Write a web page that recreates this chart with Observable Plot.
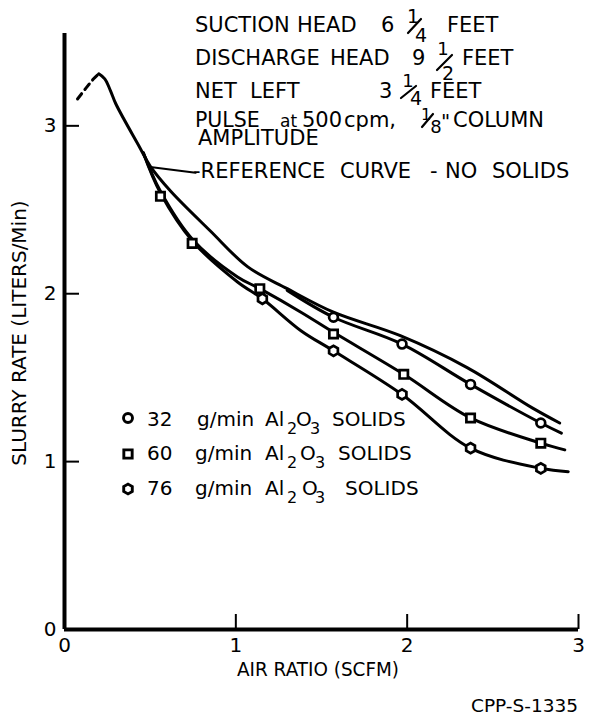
<!DOCTYPE html>
<html><head><meta charset="utf-8">
<script src="https://cdn.jsdelivr.net/npm/d3@7"></script>
<script src="https://cdn.jsdelivr.net/npm/@observablehq/plot@0.6"></script>
<style>body{margin:0;background:#fff} svg{display:block}</style>
</head><body><div id="chart"></div>
<script>
// ---------- DATA ----------
const xTicks = [0, 1, 2, 3];
const yTicks = [0, 1, 2, 3];

// reference curve (no solids): dashed rising part, then solid
const refDashX = [0.076, 0.17, 0.20];
const refDashY = [3.16, 3.28, 3.31];
const refX = [0.20, 0.235, 0.268, 0.30, 0.44, 0.50, 0.62, 0.85, 1.07, 1.30, 1.57, 1.96, 2.35, 2.73, 2.89];
const refY = [3.31, 3.28, 3.21, 3.13, 2.87, 2.76, 2.61, 2.375, 2.16, 2.03, 1.89, 1.75, 1.56, 1.32, 1.23];

// fitted curves
const c32X = [1.30, 1.57, 1.97, 2.37, 2.78, 2.90];
const c32Y = [2.02, 1.86, 1.70, 1.46, 1.23, 1.17];
const c60X = [0.46, 0.56, 0.75, 1.01, 1.14, 1.38, 1.57, 1.98, 2.37, 2.78, 2.92];
const c60Y = [2.84, 2.61, 2.32, 2.10, 2.03, 1.89, 1.77, 1.52, 1.26, 1.11, 1.07];
const c76X = [0.46, 0.56, 0.75, 1.01, 1.155, 1.38, 1.57, 1.97, 2.37, 2.78, 2.94];
const c76Y = [2.84, 2.60, 2.31, 2.07, 1.97, 1.78, 1.66, 1.40, 1.08, 0.96, 0.94];

// measured points
const m32X = [1.57, 1.97, 2.37, 2.78];
const m32Y = [1.86, 1.70, 1.46, 1.23];
const m60X = [0.56, 0.745, 1.14, 1.57, 1.98, 2.37, 2.78];
const m60Y = [2.58, 2.30, 2.03, 1.76, 1.52, 1.26, 1.11];
const m76X = [1.155, 1.57, 1.97, 2.37, 2.78];
const m76Y = [1.97, 1.66, 1.40, 1.08, 0.96];

// pointer from reference curve to its label
const pointerX = [0.50, 0.765];
const pointerY = [2.755, 2.72];

const legendRates = ["32", "60", "76"];
const xTitle = "AIR RATIO (SCFM)";
const yTitle = "SLURRY RATE (LITERS/Min)";
const caption = "CPP-S-1335";

// ---------- CHART ----------
const pts = (xs, ys) => xs.map((x, i) => ({x, y: ys[i]}));
const hexagon = {
  draw(ctx, size) {
    const r = Math.sqrt(2 * size / (3 * Math.sqrt(3)));
    for (let i = 0; i < 6; i++) {
      const a = Math.PI / 3 * i + Math.PI / 6;
      const px = r * Math.cos(a), py = r * Math.sin(a);
      if (i === 0) ctx.moveTo(px, py); else ctx.lineTo(px, py);
    }
    ctx.closePath();
  }
};

const W = 590, H = 723, mL = 64, mR = 12, mT = 33, mB = 94;
const FONT = "DejaVu Sans";
const lineOpts = {x: "x", y: "y", curve: "catmull-rom", stroke: "#000", strokeWidth: 3, strokeLinecap: "round"};
const dotOpts = {x: "x", y: "y", r: 4.4, fill: "#fff", stroke: "#000", strokeWidth: 2.7};

const chart = Plot.plot({
  width: W, height: H,
  marginLeft: mL, marginRight: mR, marginTop: mT, marginBottom: mB,
  style: {fontFamily: FONT, color: "#000", background: "#fff"},
  x: {domain: [0, 3]},
  y: {domain: [0, 3.55]},
  marks: [
    Plot.axisX(xTicks, {tickSize: 0, tickPadding: 8, fontSize: 20, label: null, tickFormat: d => String(d)}),
    Plot.axisY(yTicks, {tickSize: 0, tickPadding: 8, fontSize: 20, label: null, tickFormat: d => String(d)}),
    Plot.ruleX(xTicks.filter(d => d > 0), {insetTop: H - mT - mB - 15, strokeWidth: 2}),
    Plot.ruleY(yTicks.filter(d => d > 0), {insetRight: W - mL - mR - 15, strokeWidth: 2}),
    Plot.ruleX([0], {strokeWidth: 4}),
    Plot.ruleY([0], {strokeWidth: 4}),
    Plot.line(pts(refDashX, refDashY), {...lineOpts, strokeDasharray: "7,5"}),
    Plot.line(pts(refX, refY), lineOpts),
    Plot.line(pts(c32X, c32Y), lineOpts),
    Plot.line(pts(c60X, c60Y), lineOpts),
    Plot.line(pts(c76X, c76Y), lineOpts),
    Plot.line(pts(pointerX, pointerY), {x: "x", y: "y", stroke: "#000", strokeWidth: 2}),
    Plot.dot(pts(m32X, m32Y), {...dotOpts, symbol: "circle"}),
    Plot.dot(pts(m60X, m60Y), {...dotOpts, symbol: "square", r: 4.7}),
    Plot.dot(pts(m76X, m76Y), {...dotOpts, symbol: hexagon, r: 4.6})
  ]
});
document.getElementById("chart").appendChild(chart);

// ---------- ANNOTATIONS ----------
const svg = d3.select(chart);
const g = svg.append("g").attr("font-family", FONT).attr("fill", "#000");
function t(str, x, y, size = 21, anchor = "start") {
  return g.append("text").attr("x", x).attr("y", y).attr("font-size", size)
    .attr("text-anchor", anchor).text(str);
}
function slash(x1, y1, x2, y2) {
  g.append("line").attr("x1", x1).attr("y1", y1).attr("x2", x2).attr("y2", y2)
    .attr("stroke", "#000").attr("stroke-width", 2.2).attr("stroke-linecap", "round");
}
// header block
[["SUCTION",195,32],["HEAD",297,32],["6",381,32],["FEET",447,32],
 ["DISCHARGE",195,65],["HEAD",330,65],["9",412,65],["FEET",462,65],
 ["NET",195,98],["LEFT",250,98],["3",379,98],["FEET",430,98],
 ["500",302,127],["cpm,",344,127],["COLUMN",453,127],
 ["AMPLITUDE",198,145],
 ["-REFERENCE",193,178],["CURVE",340,178],["-",430,178],["NO",445,178],["SOLIDS",492,178]
].forEach(([s,x,y]) => t(s,x,y));
t("PULSE", 195, 127, 20.5);
t("at", 280, 127, 17);
t("\"", 441, 128, 20);
// stacked fractions: numerator, slash, denominator
t("1", 413, 23, 19, "middle"); slash(408, 33, 421, 19); t("4", 421, 42, 19, "middle");
t("1", 443, 55, 18, "middle"); slash(437, 70, 452, 55); t("2", 448, 80, 19, "middle");
t("1", 408, 87, 18, "middle"); slash(401, 98, 416, 86); t("4", 416, 105, 19, "middle");
t("1", 426, 120, 16, "middle"); slash(422, 127, 433, 114); t("8", 436, 133, 18, "middle");

// legend
const legendSymbols = [d3.symbolCircle, d3.symbolSquare, hexagon];
const legRowY = [426, 460, 495];
const legMarkY = [418, 454, 489];
const legX = [[147,197,265,287,296,310,332],[147,195,265,287,300,315,338],[147,195,265,287,302,315,345]];
legendRates.forEach((rate, i) => {
  const size = i === 1 ? Math.PI * 4.7 * 4.7 : Math.PI * 4.5 * 4.5;
  g.append("path").attr("d", d3.symbol(legendSymbols[i], size)())
    .attr("transform", `translate(128,${legMarkY[i]})`)
    .attr("fill", "#fff").attr("stroke", "#000").attr("stroke-width", 2.9);
  const y = legRowY[i], xs = legX[i];
  t(rate, xs[0], y, 20);
  t("g/min", xs[1], y, 20);
  t("Al", xs[2], y, 20);
  t("2", xs[3], y + 8, 16);
  t("O", xs[4], y, 20);
  t("3", xs[5], y + 8, 16);
  t("SOLIDS", xs[6], y, 20);
});

// axis titles and caption
t(xTitle, 318, 676, 20, "middle").attr("textLength", 162).attr("lengthAdjust", "spacingAndGlyphs");
g.append("text").attr("transform", "translate(26,333) rotate(-90)")
  .attr("font-size", 20).attr("text-anchor", "middle").text(yTitle);
t(caption, 578, 712, 18.5, "end");
</script>
</body></html>
